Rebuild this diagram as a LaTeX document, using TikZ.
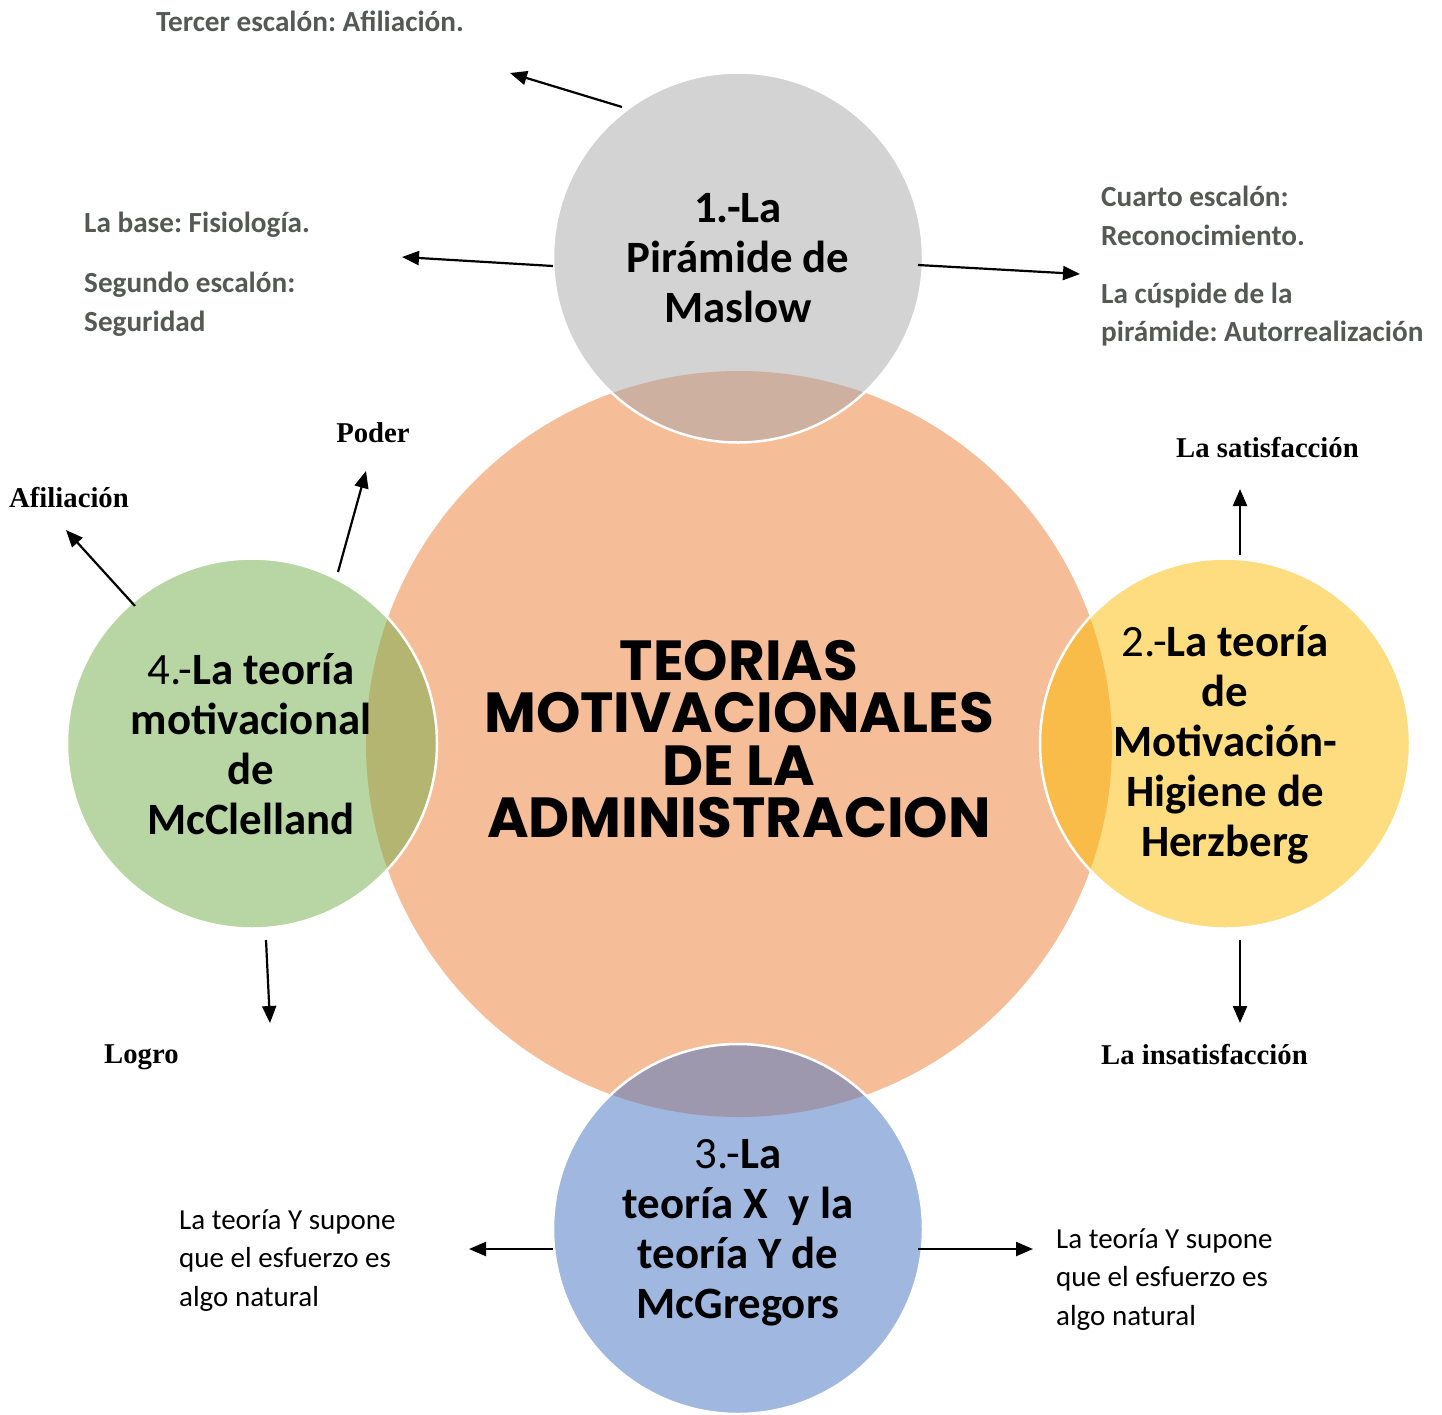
\documentclass[tikz,border=0pt]{standalone}
\usepackage{fontspec}
\setmainfont{Carlito}
\newfontfamily\titlefont{Poppins}
\newfontfamily\serfont{Liberation Serif}
\usetikzlibrary{arrows.meta}
\frenchspacing
\definecolor{corange}{HTML}{F5BE98}
\definecolor{cgray}{HTML}{D3D3D3}
\definecolor{cgreen}{HTML}{B8D6A3}
\definecolor{cyellow}{HTML}{FEDC80}
\definecolor{cblue}{HTML}{A0B7DF}
\definecolor{ovtop}{HTML}{CDB09F}
\definecolor{ovleft}{HTML}{B4B570}
\definecolor{ovright}{HTML}{F9BC48}
\definecolor{ovbottom}{HTML}{9D98AE}
\definecolor{labgray}{HTML}{545955}
\begin{document}
\begin{tikzpicture}[x=1pt,y=-1pt,
  bubble/.style={circle, inner sep=0pt, minimum size=370pt},
  conn/.style={-{Triangle[length=17pt,width=14pt]}, line width=2.2pt, black},
  graylab/.style={font=\fontsize{29.2}{38.5}\selectfont\bfseries, text=labgray, align=left, inner sep=0pt, anchor=west},
  serlab/.style={font=\serfont\fontsize{28.7}{32}\selectfont\bfseries, inner sep=0pt, anchor=west},
  bodylab/.style={font=\fontsize{29}{38.5}\selectfont, align=left, inner sep=0pt, anchor=west},
  circtext/.style={font=\fontsize{44.8}{50}\selectfont\bfseries, align=center, inner sep=0pt},
  titletext/.style={font=\titlefont\bfseries\fontsize{56.5}{52.3}\selectfont, align=center, inner sep=0pt}
]
\useasboundingbox (0,0) rectangle (1442,1414);
% circles
\node[bubble, minimum size=746pt, fill=corange] (core) at (739,744) {};
\node[bubble, fill=cgray] (maslow) at (738,257.5) {};
\node[bubble, fill=cgreen] (mccl) at (252,743.5) {};
\node[bubble, fill=cyellow] (herz) at (1225,743.5) {};
\node[bubble, fill=cblue] (mcg) at (738,1229) {};
% overlaps
\begin{scope}
  \clip (core.center) circle[radius=373pt];
  \fill[ovtop] (maslow.center) circle[radius=185pt];
  \fill[ovleft] (mccl.center) circle[radius=185pt];
  \fill[ovright] (herz.center) circle[radius=185pt];
  \fill[ovbottom] (mcg.center) circle[radius=185pt];
\end{scope}
\foreach \c in {maslow,mccl,herz,mcg}{
  \draw[white, line width=2.5pt] (\c.center) circle[radius=185pt];
}
% texts in circles
\node[titletext] (title) at (739,739) {TEORIAS\\MOTIVACIONALES\\DE LA\\ADMINISTRACION};
\node[circtext] (maslowtxt) at (738,258) {1.-La\\Pirámide de\\Maslow};
\node[circtext] (mcclt) at (251,744) {{\mdseries 4.-}La teoría\\motivacional\\de\\McClelland};
\node[circtext] (herzt) at (1225,745) {{\mdseries 2.-}La teoría\\de\\Motivación-\\Higiene de\\Herzberg};
\node[circtext] (mcgt) at (738,1233) {{\mdseries 3.-}La\\teoría X\ \ y la\\teoría Y de\\McGregors};
% labels
\node[graylab] (l3) at (156,21) {Tercer escalón: Afiliación.};
\node[graylab] (l1) at (84,225) {La base: Fisiología.};
\node[graylab] (l2) at (84,304) {Segundo escalón:\\Seguridad};
\node[graylab] (l4) at (1101,216) {Cuarto escalón:\\Reconocimiento.};
\node[graylab] (l5) at (1101,314.5) {La cúspide de la\\pirámide: Autorrealización};
\node[serlab, anchor=center] (poder) at (373,433) {Poder};
\node[serlab] (afil) at (9,498) {Afiliación};
\node[serlab] (sat) at (1176,448) {La satisfacción};
\node[serlab] (logro) at (104,1057) {Logro};
\node[serlab] (insat) at (1101,1055) {La insatisfacción};
\node[bodylab] (yl) at (179,1260.5) {La teoría Y supone\\que el esfuerzo es\\algo natural};
\node[bodylab] (yr) at (1056,1279.5) {La teoría Y supone\\que el esfuerzo es\\algo natural};
% connector end points
\coordinate (a1s) at (622,107);  \coordinate (a1e) at (510,73);
\coordinate (a2s) at (553,266);  \coordinate (a2e) at (402,257);
\coordinate (a3s) at (918,265);  \coordinate (a3e) at (1080,274);
\coordinate (a4s) at (1240,555); \coordinate (a4e) at (1240,489);
\coordinate (a5s) at (1240,940); \coordinate (a5e) at (1240,1023);
\coordinate (a6s) at (135,606);  \coordinate (a6e) at (66,530);
\coordinate (a7s) at (338,572);  \coordinate (a7e) at (366,471);
\coordinate (a8s) at (266,940);  \coordinate (a8e) at (270,1023);
\coordinate (a9s) at (553,1249); \coordinate (a9e) at (469,1249);
\coordinate (a10s) at (918,1249); \coordinate (a10e) at (1033,1249);
\foreach \i in {1,...,10}{
  \draw[conn] (a\i s) -- (a\i e);
}
\end{tikzpicture}
\end{document}
